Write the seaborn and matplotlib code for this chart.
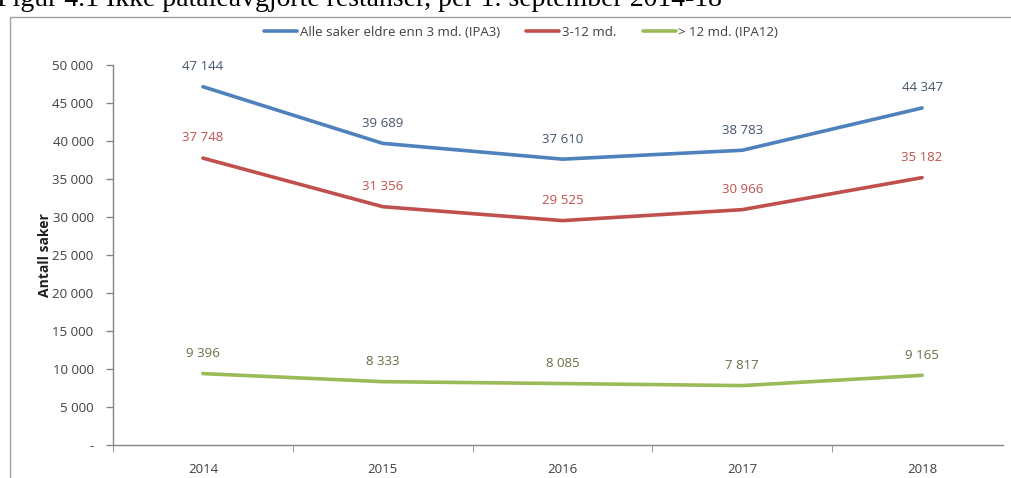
import matplotlib
matplotlib.use('Agg')
import matplotlib.pyplot as plt
from matplotlib.patches import Rectangle
from matplotlib.ticker import FuncFormatter
import seaborn as sns
import pandas as pd

years = ["2014", "2015", "2016", "2017", "2018"]
ipa3 = [47144, 39689, 37610, 38783, 44347]
mid = [37748, 31356, 29525, 30966, 35182]
ipa12 = [9396, 8333, 8085, 7817, 9165]
series_names = ["Alle saker eldre enn 3 md. (IPA3)", "3-12 md.", "> 12 md. (IPA12)"]

line_colors = ["#4F81BD", "#C0504D", "#9BBB59"]
label_colors = ["#44546A", "#C0504D", "#6B6B45"]


def fmt(v, pos=None):
    if v == 0:
        return "-"
    return "{:,.0f}".format(v).replace(",", " ")


rows = []
for name, vals in zip(series_names, [ipa3, mid, ipa12]):
    for i, v in enumerate(vals):
        rows.append({"idx": i, "year": years[i], "value": v, "serie": name})
df = pd.DataFrame(rows)

sns.set_style("white")
plt.rcParams['font.family'] = ['Open Sans', 'DejaVu Sans']
plt.rcParams['ytick.left'] = True
plt.rcParams['xtick.bottom'] = True
plt.rcParams['ytick.major.size'] = 5
plt.rcParams['ytick.major.width'] = 1
plt.rcParams['ytick.color'] = "#868686"

fig = plt.figure(figsize=(10.12, 4.78), dpi=100)
W, H = 1012, 478
ax = fig.add_axes([113 / W, 1 - 445 / H, (1003 - 113) / W, (445 - 65) / H])

g = sns.lineplot(data=df, x="idx", y="value", hue="serie", palette=line_colors,
                 linewidth=2.6, ax=ax, legend=True)

for name, vals, c in zip(series_names, [ipa3, mid, ipa12], label_colors):
    for i, v in enumerate(vals):
        ax.annotate(fmt(v), (i, v), xytext=(0, 14.5), textcoords="offset points",
                    ha="center", va="center", fontsize=9.5, color=c)

ax.set_ylim(0, 50000)
ax.set_xlim(-0.5, 4.45)
ax.set_yticks(range(0, 50001, 5000))
ax.yaxis.set_major_formatter(FuncFormatter(fmt))
ax.set_xticks(range(5))
ax.set_xticklabels(years)
ax.set_xticks([-0.5, 0.5, 1.5, 2.5, 3.5], minor=True)
ax.tick_params(axis="x", which="major", bottom=True, length=0, pad=13, labelsize=9.5, colors="#404040")
ax.tick_params(axis="x", which="minor", bottom=True, length=5, color="#868686", direction="out")
ax.tick_params(axis="y", which="major", left=True, length=5, width=1, color="#868686",
               direction="out", labelsize=9.5, labelcolor="#404040", pad=9)
ax.set_xlabel("")
ax.set_ylabel("Antall saker", fontsize=10, fontweight="bold", color="#202020", labelpad=0)
for s in ["top", "right"]:
    ax.spines[s].set_visible(False)
for s in ["left", "bottom"]:
    ax.spines[s].set_color("#868686")
    ax.spines[s].set_linewidth(1)

leg = ax.legend(loc="center", bbox_to_anchor=(521 / W, 1 - 32 / H),
                bbox_transform=fig.transFigure, ncol=3, frameon=False,
                fontsize=9.5, handlelength=2.5, handletextpad=0.2, columnspacing=2.0)
for t in leg.get_texts():
    t.set_color("#404040")

fig.patches.append(Rectangle((10 / W, -0.01), 1.0, 1 - 17 / H + 0.01,
                             transform=fig.transFigure, fill=False,
                             edgecolor="#A0A0A0", linewidth=1))
fig.text(-0.003, 1 - 6 / H, "Figur 4.1 Ikke påtaleavgjorte restanser, per 1. september 2014-18",
         fontsize=20, family="Liberation Serif", va="baseline", ha="left", color="black")

fig.savefig("out.png", dpi=100)
plt.close()
